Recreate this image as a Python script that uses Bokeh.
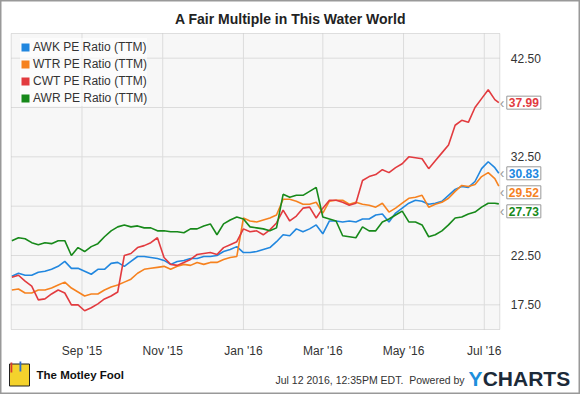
import datetime as dt
import numpy as np
from bokeh.plotting import figure
from bokeh.models import (Range1d, FixedTicker, DatetimeTickFormatter, PrintfTickFormatter,
                          Label, Legend, LegendItem, ColumnDataSource, BoxAnnotation)
from bokeh.embed import file_html
from bokeh.resources import INLINE

# ---------------- data ----------------
first_day = dt.datetime(2015, 7, 10)
dates = [first_day + dt.timedelta(days=5 * i) for i in range(74)] + [dt.datetime(2016, 7, 12)]

awk = [20.4, 20.7, 20.5, 20.5, 20.8, 20.9, 21.1, 21.4, 21.9, 21.2,
       21.2, 20.9, 20.6, 21.1, 21.1, 21.7, 21.8, 21.4, 21.9, 22.4,
       22.4, 22.3, 22.2, 22.0, 21.6, 21.9, 22.0, 22.2, 22.2, 22.4,
       22.4, 22.5, 22.9, 23.1, 23.4, 22.8, 22.8, 22.9, 23.1, 23.3,
       23.9, 24.6, 24.5, 25.2, 24.9, 25.2, 25.6, 24.7, 26.0, 26.0,
       25.9, 26.0, 25.9, 26.2, 26.2, 26.6, 26.7, 25.9, 26.8, 27.3,
       27.8, 28.1, 28.0, 27.7, 27.8, 28.0, 28.6, 29.2, 29.5, 29.4,
       30.0, 31.3, 32.0, 31.4, 30.83]
wtr = [19.0, 19.1, 18.7, 18.7, 19.0, 19.0, 19.2, 19.5, 19.8, 19.2,
       18.8, 18.4, 18.6, 18.6, 19.0, 19.3, 19.5, 19.8, 20.1, 20.7,
       21.1, 21.2, 21.3, 21.4, 21.1, 21.4, 21.6, 21.5, 21.8, 21.6,
       21.8, 21.8, 22.1, 22.3, 22.4, 26.3, 26.0, 25.9, 26.1, 26.3,
       26.6, 28.2, 28.2, 28.0, 27.7, 27.7, 27.9, 26.8, 28.0, 28.1,
       28.1, 27.7, 27.9, 27.7, 27.6, 27.4, 27.8, 26.9, 27.3, 27.8,
       28.3, 28.4, 28.6, 27.4, 27.7, 27.9, 28.3, 29.0, 29.6, 29.5,
       29.7, 30.5, 30.9, 30.3, 29.52]
cwt = [20.3, 20.5, 19.9, 19.4, 18.0, 18.1, 18.6, 19.0, 18.7, 17.5,
       17.5, 16.9, 17.2, 17.6, 18.1, 18.4, 18.8, 22.5, 22.7, 23.3,
       23.5, 23.8, 24.3, 22.3, 21.6, 21.5, 21.8, 22.1, 22.6, 22.7,
       22.8, 22.6, 23.3, 23.6, 23.9, 25.2, 24.9, 25.0, 24.6, 25.1,
       25.8, 27.1, 26.0, 26.5, 27.3, 27.4, 26.3, 27.3, 28.1, 28.1,
       27.9, 27.6, 27.8, 30.1, 30.5, 30.7, 31.2, 30.9, 31.4, 31.8,
       32.5, 32.4, 32.3, 31.3, 32.1, 32.9, 33.7, 35.7, 36.2, 36.0,
       37.5, 38.4, 39.3, 38.3, 37.99]
awr = [24.0, 24.3, 24.2, 23.8, 23.6, 23.8, 23.7, 24.0, 24.0, 22.5,
       23.3, 22.9, 23.4, 23.7, 24.4, 25.0, 25.4, 25.6, 25.4, 25.5,
       25.3, 25.3, 25.0, 25.0, 24.9, 24.9, 24.8, 25.2, 25.2, 25.5,
       25.7, 24.6, 25.7, 26.1, 26.4, 26.2, 25.4, 25.3, 25.2, 25.0,
       25.3, 28.7, 28.4, 28.6, 28.6, 29.0, 29.4, 26.4, 26.2, 26.0,
       24.5, 24.4, 24.3, 25.4, 25.0, 25.0, 25.9, 26.2, 26.6, 27.0,
       25.9, 25.9, 25.6, 24.4, 24.6, 25.0, 25.6, 26.3, 26.4, 26.7,
       26.9, 27.4, 27.8, 27.8, 27.73]

series_names = ["AWK PE Ratio (TTM)", "WTR PE Ratio (TTM)", "CWT PE Ratio (TTM)", "AWR PE Ratio (TTM)"]
series_values = [awk, wtr, cwt, awr]
series_colors = ["#2187df", "#f6821f", "#e23b3f", "#17891a"]

x_tick_dates = [dt.datetime(2015, 9, 1), dt.datetime(2015, 11, 1), dt.datetime(2016, 1, 1),
                dt.datetime(2016, 3, 1), dt.datetime(2016, 5, 1), dt.datetime(2016, 7, 1)]
y_tick_labels = [17.5, 22.5, 32.5, 42.5]
y_grid_values = [17.5, 22.5, 27.5, 32.5, 37.5, 42.5]

title_text = "A Fair Multiple in This Water World"
stamp_text = "Jul 12 2016, 12:35PM EDT.\u00a0 Powered by"

# ---------------- layout helpers ----------------
EPOCH = dt.datetime(1970, 1, 1)
def ms(d):
    return (d - EPOCH).total_seconds() * 1000.0

W, H = 580, 394
PL, PR, PT, PB = 10.7, 499.3, 33.0, 329.0      # inner plot box in canvas pixels
x_start = ms(dates[0] - dt.timedelta(hours=12))
x_end = ms(dates[-1] + dt.timedelta(hours=18))
y_lo, y_hi = 15, 45

ppx = (PR - PL) / (x_end - x_start)            # pixels per ms
ppy = (PB - PT) / (y_hi - y_lo)                # pixels per unit
full_x = Range1d(x_start - PL / ppx, x_end + (W - PR) / ppx)
full_y = Range1d(y_lo - (H - PB) / ppy, y_hi + PT / ppy)

FONT = "Liberation Sans"

p = figure(width=W, height=H, x_axis_type="datetime", output_backend="svg",
           toolbar_location=None, x_range=full_x, y_range=full_y,
           min_border_left=0, min_border_right=0, min_border_top=0, min_border_bottom=0,
           y_axis_location="right", background_fill_color="white",
           border_fill_color="white", outline_line_color="#999999", outline_line_width=2)
p.xgrid.visible = False
p.ygrid.visible = False

# plot box background and border
p.add_layout(BoxAnnotation(left=x_start, right=x_end, bottom=y_lo, top=y_hi,
                           fill_color="#f7f7f7", fill_alpha=1, line_color=None, level="image"))
p.add_layout(BoxAnnotation(left=x_start, right=x_end, bottom=y_lo, top=y_hi,
                           fill_alpha=0, line_color="#9a9a9a", line_width=1))

# grid lines
xt = [ms(d) for d in x_tick_dates]
p.segment(x0=xt, x1=xt, y0=[y_lo] * len(xt), y1=[y_hi] * len(xt),
          line_color="#dcdcdc", line_width=1)
p.segment(x0=[x_start] * len(y_grid_values), x1=[x_end] * len(y_grid_values),
          y0=y_grid_values, y1=y_grid_values, line_color="#dcdcdc", line_width=1)

# axes (drawn at the edges of the plot box)
fmt = "%b '%y"
p.xaxis.fixed_location = y_lo
p.xaxis.ticker = FixedTicker(ticks=xt)
p.xaxis.formatter = DatetimeTickFormatter(milliseconds=fmt, seconds=fmt, minsec=fmt, minutes=fmt,
                                          hourmin=fmt, hours=fmt, days=fmt, months=fmt, years=fmt)
p.yaxis.fixed_location = x_end
p.yaxis.ticker = FixedTicker(ticks=y_tick_labels)
p.yaxis.formatter = PrintfTickFormatter(format="%.2f")
for ax in (p.xaxis, p.yaxis):
    ax.axis_line_color = None
    ax.major_tick_line_color = None
    ax.minor_tick_line_color = None
    ax.major_label_text_font = FONT
    ax.major_label_text_font_size = "12px"
    ax.major_label_text_color = "#333333"
p.xaxis.major_label_standoff = 8
p.yaxis.major_label_standoff = 5

# lines
for vals, col in zip(series_values, series_colors):
    src = ColumnDataSource(dict(x=dates, y=vals))
    p.line("x", "y", source=src, line_color=col, line_width=1.6)

# legend (square swatches)
items = []
nan = np.array([np.nan])
for name, col in zip(series_names, series_colors):
    r = p.quad(left=nan, right=nan, top=nan, bottom=nan, fill_color=col, line_color=None)
    items.append(LegendItem(label=name, renderers=[r]))
row_h = 17
legend = Legend(items=items, location=(20, H - 38.2 - 4 * row_h), glyph_width=10, glyph_height=10,
                label_height=row_h, label_standoff=3, spacing=0, padding=0, margin=0,
                label_text_font=FONT, label_text_font_size="12px", label_text_color="#333333",
                background_fill_color="white", background_fill_alpha=0.6,
                border_line_color=None)
p.add_layout(legend)

# title
p.add_layout(Label(x=x_start, y=y_hi, x_offset=W / 2 - PL, y_offset=PT - 18, text=title_text,
                   text_font=FONT, text_font_size="14px", text_font_style="bold",
                   text_color="#222222", text_align="center", text_baseline="middle"))

# last-value labels on the right, pushed apart so they do not overlap
gap = 19 / ppy
order = sorted(range(len(series_values)), key=lambda k: -series_values[k][-1])
placed = {}
prev = None
for k in order:
    v = series_values[k][-1]
    yv = v if prev is None else min(v, prev - gap)
    placed[k] = yv
    prev = yv
for k in order:
    p.add_layout(Label(x=x_end, y=placed[k], x_offset=0, text="\u2039",
                       text_font=FONT, text_font_size="14px", text_color="#999999",
                       text_baseline="middle", text_align="left"))
    p.add_layout(Label(x=x_end, y=placed[k], x_offset=7, text="%.2f" % series_values[k][-1],
                       text_font=FONT, text_font_size="12px", text_font_style="bold",
                       text_color=series_colors[k], text_baseline="middle", text_align="left",
                       text_line_height=1.0,
                       background_fill_color="white", border_line_color="#999999",
                       border_line_width=1, padding=2))

# footer
def foot(text, px, py, **kw):
    p.add_layout(Label(x=x_start, y=y_lo, x_offset=px - PL, y_offset=PB - py, text=text,
                       text_baseline="middle", text_align="left", **kw))

foot("\u2003", 9, 374.5, text_font_size="20px", background_fill_color="#f4d22c",
     border_line_color="#222222", border_line_width=1)
foot("\u2009", 10, 367, text_font_size="9px", background_fill_color="#d83a2e")
foot("\u2009", 19, 366, text_font_size="9px", background_fill_color="#2a6fd0")
foot("The Motley Fool", 36, 374.3, text_font=FONT, text_font_size="11.5px",
     text_font_style="bold", text_color="#111111")
foot(stamp_text, 275, 379.3, text_font=FONT, text_font_size="10.5px", text_color="#333333")
foot("Y", 468, 377.7, text_font=FONT, text_font_size="21px", text_font_style="bold",
     text_color="#1d8fdc")
foot("CHARTS", 482.2, 377.7, text_font=FONT, text_font_size="21px", text_font_style="bold",
     text_color="#1c2a39")

open("out.html", "w").write(file_html(p, INLINE))
